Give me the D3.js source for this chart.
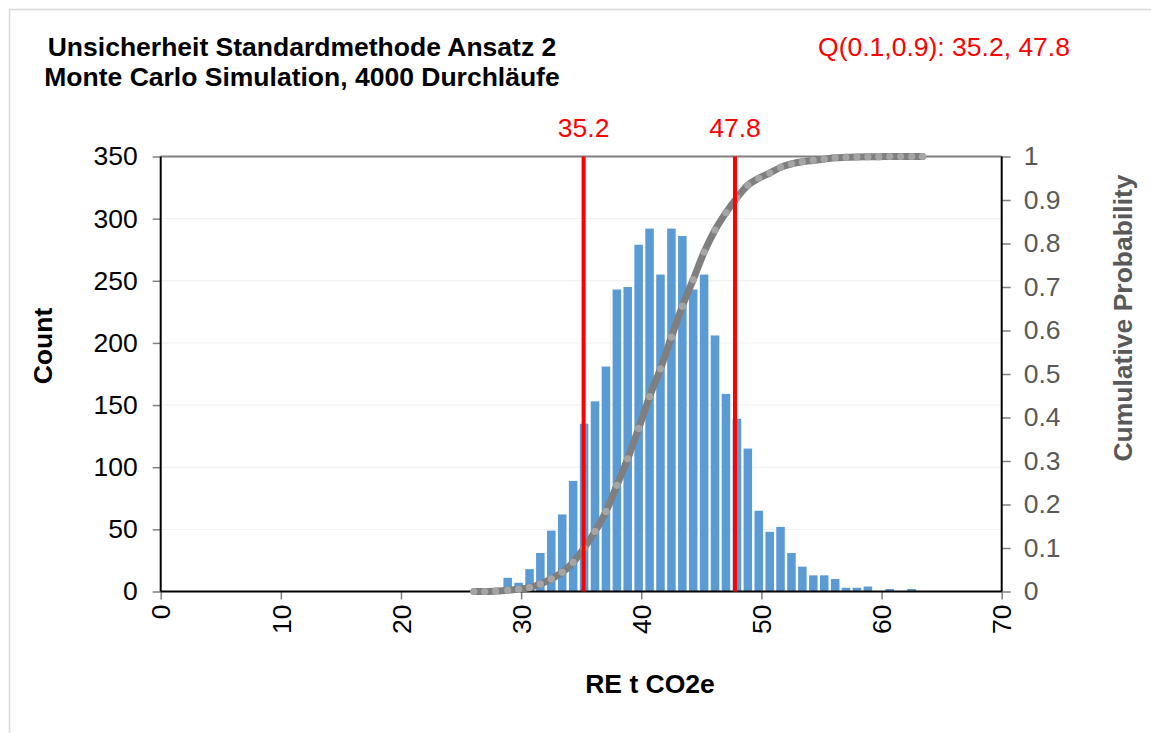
<!DOCTYPE html>
<html>
  <head>
    <meta charset="utf-8">
    <title>Unsicherheit Standardmethode Ansatz 2</title>
    <script src="https://cdn.jsdelivr.net/npm/d3@7"></script>
    <style>
      body { margin: 0; background: #fff; }
      svg { font-family: "Liberation Sans", Arial, sans-serif; }
      .axis text { font-size: 26.5px; }
    </style>
  </head>

  <body>
    <svg id="chart" width="1151" height="733"></svg>

    <script>
      // histogram: bin centres (t CO2e) and counts
      binCentres = [28.88, 29.79, 30.70, 31.60, 32.51, 33.42, 34.33, 35.24, 36.15, 37.06,
                    37.97, 38.87, 39.78, 40.69, 41.60, 42.51, 43.42, 44.32, 45.23, 46.14,
                    47.05, 47.96, 48.87, 49.78, 50.69, 51.59, 52.50, 53.41, 54.32, 55.23,
                    56.14, 57.04, 57.95, 58.86, 59.77, 60.68, 61.59, 62.50];
      counts = [11, 7, 18, 31, 49, 62, 89, 135, 153, 181,
                243, 245, 279, 292, 255, 292, 286, 243, 255, 206,
                159, 139, 115, 65, 48, 52, 31, 20, 13, 13,
                10, 3, 3, 4, 0, 2, 0, 2];

      // cumulative probability curve
      cdfX = [26.06, 26.97, 27.88, 28.88, 29.79, 30.70, 31.60, 32.51, 33.42, 34.33,
              35.24, 36.15, 37.06, 37.97, 38.87, 39.78, 40.69, 41.60, 42.51, 43.42,
              44.32, 45.23, 46.14, 47.05, 47.96, 48.87, 49.78, 50.69, 51.59, 52.50,
              53.41, 54.32, 55.23, 56.14, 57.04, 57.95, 58.86, 59.77, 60.68, 61.59,
              62.50, 63.41];
      cdfProb = [0, 0, 0.001, 0.003, 0.005, 0.009, 0.017, 0.029, 0.044, 0.067,
                 0.100, 0.138, 0.184, 0.244, 0.305, 0.375, 0.448, 0.512, 0.585, 0.656,
                 0.717, 0.780, 0.831, 0.871, 0.905, 0.934, 0.950, 0.962, 0.975, 0.983,
                 0.988, 0.991, 0.994, 0.997, 0.998, 0.999, 0.9995, 0.9995, 1, 1,
                 1, 1];

      quantiles = [35.2, 47.8];
      quantileLabels = ["35.2", "47.8"];

      xTicks = [0, 10, 20, 30, 40, 50, 60, 70];
      countTicks = [0, 50, 100, 150, 200, 250, 300, 350];
      probTicks = [0, 0.1, 0.2, 0.3, 0.4, 0.5, 0.6, 0.7, 0.8, 0.9, 1];

      svg = d3.select("#chart");
      fontSize = 26.5;

      plot = { left: 160.7, right: 1001.7, top: 156.5, bottom: 591.5 };

      x = d3.scaleLinear().domain([0, 70]).range([plot.left, plot.right]);
      y = d3.scaleLinear().domain([0, 350]).range([plot.bottom, plot.top]);
      yProb = d3.scaleLinear().domain([0, 1]).range([plot.bottom, plot.top]);

      // outer frame
      svg.append("rect")
        .attr("x", 9.5)
        .attr("y", 9.5)
        .attr("width", 1200)
        .attr("height", 800)
        .attr("fill", "none")
        .attr("stroke", "#d9d9d9")
        .attr("stroke-width", 1.5);

      // gridlines
      svg.append("g")
        .selectAll("line")
        .data(countTicks.slice(1, -1))
        .join("line")
          .attr("x1", plot.left)
          .attr("x2", plot.right)
          .attr("y1", function(d) { return y(d); })
          .attr("y2", function(d) { return y(d); })
          .attr("stroke", "#efefef")
          .attr("stroke-width", 1);

      // bars
      barWidth = x(0.71) - x(0);
      svg.append("g")
        .selectAll("rect")
        .data(counts)
        .join("rect")
          .attr("x", function(d, i) { return x(binCentres[i]) - barWidth / 2; })
          .attr("y", function(d) { return y(d); })
          .attr("width", barWidth)
          .attr("height", function(d) { return y(0) - y(d); })
          .attr("fill", "#5b9bd5");

      // axes
      leftAxis = svg.append("g")
        .attr("class", "axis")
        .attr("transform", "translate(" + plot.left + ",0)")
        .call(d3.axisLeft(y).tickValues(countTicks).tickSize(8).tickPadding(15));
      rightAxis = svg.append("g")
        .attr("class", "axis")
        .attr("transform", "translate(" + plot.right + ",0)")
        .call(d3.axisRight(yProb).tickValues(probTicks).tickSize(9).tickPadding(13)
          .tickFormat(function(d) { return String(d); }));
      bottomAxis = svg.append("g")
        .attr("class", "axis")
        .attr("transform", "translate(0," + plot.bottom + ")")
        .call(d3.axisBottom(x).tickValues(xTicks).tickSize(8));
      bottomAxis.selectAll("text")
        .attr("transform", "rotate(-90)")
        .attr("text-anchor", "end")
        .attr("x", -13)
        .attr("y", 0)
        .attr("dy", "0.35em");

      svg.selectAll(".axis .domain").remove();
      svg.selectAll(".axis line").attr("stroke", "#808080").attr("stroke-width", 1.5);
      leftAxis.selectAll("text").attr("fill", "#000");
      bottomAxis.selectAll("text").attr("fill", "#000");
      rightAxis.selectAll("text").attr("fill", "#595959");

      // plot border
      svg.append("line")
        .attr("x1", plot.left).attr("x2", plot.right)
        .attr("y1", plot.top).attr("y2", plot.top)
        .attr("stroke", "#808080").attr("stroke-width", 2);
      svg.append("line")
        .attr("x1", plot.left).attr("x2", plot.left)
        .attr("y1", plot.top).attr("y2", plot.bottom)
        .attr("stroke", "#000").attr("stroke-width", 2);
      svg.append("line")
        .attr("x1", plot.right).attr("x2", plot.right)
        .attr("y1", plot.top).attr("y2", plot.bottom)
        .attr("stroke", "#000").attr("stroke-width", 2);
      svg.append("line")
        .attr("x1", plot.left).attr("x2", plot.right)
        .attr("y1", plot.bottom).attr("y2", plot.bottom)
        .attr("stroke", "#000").attr("stroke-width", 2);

      // cumulative curve
      cdf = cdfX.map(function(d, i) { return [d, cdfProb[i]]; });
      line = d3.line()
        .x(function(d) { return x(d[0]); })
        .y(function(d) { return yProb(d[1]); })
        .curve(d3.curveMonotoneX);
      svg.append("path")
        .datum(cdf)
        .attr("d", line)
        .attr("fill", "none")
        .attr("stroke", "#7f7f7f")
        .attr("stroke-width", 7)
        .attr("stroke-linecap", "round");
      svg.append("g")
        .selectAll("circle")
        .data(cdf)
        .join("circle")
          .attr("cx", function(d) { return x(d[0]); })
          .attr("cy", function(d) { return yProb(d[1]); })
          .attr("r", 3.6)
          .attr("fill", "#a5a5a5");

      // quantile lines
      svg.append("g")
        .selectAll("line")
        .data(quantiles)
        .join("line")
          .attr("x1", function(d) { return x(d); })
          .attr("x2", function(d) { return x(d); })
          .attr("y1", plot.top)
          .attr("y2", plot.bottom)
          .attr("stroke", "#ff0000")
          .attr("stroke-width", 4);
      svg.append("g")
        .selectAll("text")
        .data(quantiles)
        .join("text")
          .attr("x", function(d) { return x(d); })
          .attr("y", 136.5)
          .attr("text-anchor", "middle")
          .attr("font-size", fontSize)
          .attr("fill", "#ff0000")
          .text(function(d, i) { return quantileLabels[i]; });

      // titles
      svg.append("text")
        .attr("x", 302)
        .attr("y", 56)
        .attr("text-anchor", "middle")
        .attr("font-size", fontSize)
        .attr("font-weight", "bold")
        .text("Unsicherheit Standardmethode Ansatz 2");
      svg.append("text")
        .attr("x", 302)
        .attr("y", 86)
        .attr("text-anchor", "middle")
        .attr("font-size", fontSize)
        .attr("font-weight", "bold")
        .text("Monte Carlo Simulation, 4000 Durchläufe");
      svg.append("text")
        .attr("x", 944)
        .attr("y", 56)
        .attr("text-anchor", "middle")
        .attr("font-size", fontSize)
        .attr("fill", "#ff0000")
        .text("Q(0.1,0.9): " + quantileLabels.join(", "));

      // axis titles
      svg.append("text")
        .attr("transform", "translate(43,346) rotate(-90)")
        .attr("text-anchor", "middle")
        .attr("dy", "0.35em")
        .attr("font-size", fontSize)
        .attr("font-weight", "bold")
        .text("Count");
      svg.append("text")
        .attr("transform", "translate(1122.5,318) rotate(-90)")
        .attr("text-anchor", "middle")
        .attr("dy", "0.35em")
        .attr("font-size", fontSize)
        .attr("font-weight", "bold")
        .attr("fill", "#595959")
        .text("Cumulative Probability");
      svg.append("text")
        .attr("x", 650)
        .attr("y", 693)
        .attr("text-anchor", "middle")
        .attr("font-size", fontSize)
        .attr("font-weight", "bold")
        .text("RE t CO2e");
    </script>
  </body>
</html>
